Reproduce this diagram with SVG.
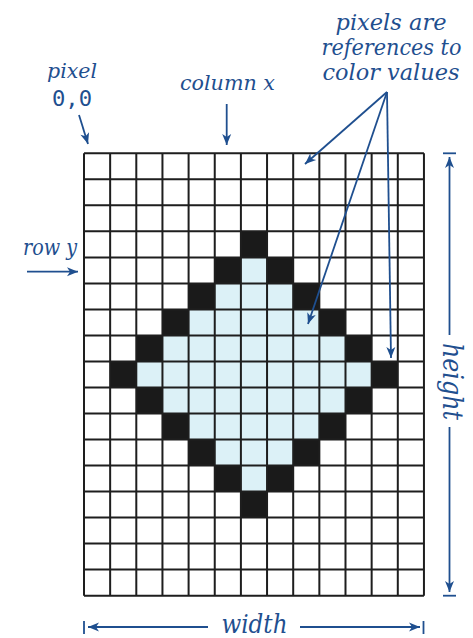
<svg xmlns="http://www.w3.org/2000/svg" width="473" height="638" viewBox="0 0 473 638">
<style>
.lbl{font-family:"DejaVu Serif","Liberation Serif",serif;font-style:italic;fill:#1f4f8f}
.mono{font-family:"DejaVu Sans Mono","Liberation Mono",monospace;fill:#1f4f8f}
.ln{stroke:#1f4f8f;stroke-width:1.8;fill:none}
.blk{fill:#1a1a1a}
.lt{fill:#dcf1f7}
</style>
<defs>
<marker id="ah" viewBox="-12 -6 13 12" refX="0" refY="0" markerWidth="13" markerHeight="12" markerUnits="userSpaceOnUse" orient="auto">
<path d="M0,0 L-11,-4.5 L-8,0 L-11,4.5 Z" fill="#1f4f8f"/>
</marker>
</defs>
<rect width="473" height="638" fill="#ffffff"/>
<g id="grid" transform="translate(84,153.3) scale(26.15,26.02)">
<g id="light">
<rect class="lt" x="6" y="4" width="1" height="1"/>
<rect class="lt" x="5" y="5" width="3" height="1"/>
<rect class="lt" x="4" y="6" width="5" height="1"/>
<rect class="lt" x="3" y="7" width="7" height="1"/>
<rect class="lt" x="2" y="8" width="9" height="1"/>
<rect class="lt" x="3" y="9" width="7" height="1"/>
<rect class="lt" x="4" y="10" width="5" height="1"/>
<rect class="lt" x="5" y="11" width="3" height="1"/>
<rect class="lt" x="6" y="12" width="1" height="1"/>
</g>
<g id="dark">
<rect class="blk" x="6" y="3" width="1" height="1"/>
<rect class="blk" x="5" y="4" width="1" height="1"/><rect class="blk" x="7" y="4" width="1" height="1"/>
<rect class="blk" x="4" y="5" width="1" height="1"/><rect class="blk" x="8" y="5" width="1" height="1"/>
<rect class="blk" x="3" y="6" width="1" height="1"/><rect class="blk" x="9" y="6" width="1" height="1"/>
<rect class="blk" x="2" y="7" width="1" height="1"/><rect class="blk" x="10" y="7" width="1" height="1"/>
<rect class="blk" x="1" y="8" width="1" height="1"/><rect class="blk" x="11" y="8" width="1" height="1"/>
<rect class="blk" x="2" y="9" width="1" height="1"/><rect class="blk" x="10" y="9" width="1" height="1"/>
<rect class="blk" x="3" y="10" width="1" height="1"/><rect class="blk" x="9" y="10" width="1" height="1"/>
<rect class="blk" x="4" y="11" width="1" height="1"/><rect class="blk" x="8" y="11" width="1" height="1"/>
<rect class="blk" x="5" y="12" width="1" height="1"/><rect class="blk" x="7" y="12" width="1" height="1"/>
<rect class="blk" x="6" y="13" width="1" height="1"/>
</g>
<path d="M0 0V17M1 0V17M2 0V17M3 0V17M4 0V17M5 0V17M6 0V17M7 0V17M8 0V17M9 0V17M10 0V17M11 0V17M12 0V17M13 0V17M0 0H13M0 1H13M0 2H13M0 3H13M0 4H13M0 5H13M0 6H13M0 7H13M0 8H13M0 9H13M0 10H13M0 11H13M0 12H13M0 13H13M0 14H13M0 15H13M0 16H13M0 17H13" fill="none" stroke="#1e1e1e" stroke-width="2" vector-effect="non-scaling-stroke"/>
</g>
<g id="labels">
<text id="pixel" class="lbl" x="72" y="78" font-size="21" text-anchor="middle" textLength="50" lengthAdjust="spacingAndGlyphs">pixel</text>
<text id="origin" class="mono" x="72" y="106" font-size="21" text-anchor="middle" textLength="40" lengthAdjust="spacingAndGlyphs">0,0</text>
<text id="column" class="lbl" x="227.5" y="90" font-size="20" text-anchor="middle" textLength="95" lengthAdjust="spacingAndGlyphs">column x</text>
<text id="row" class="lbl" x="50" y="255" font-size="22" text-anchor="middle" textLength="54" lengthAdjust="spacingAndGlyphs">row y</text>
<g id="note">
<text class="lbl" x="391" y="30" font-size="22" text-anchor="middle" textLength="111" lengthAdjust="spacingAndGlyphs">pixels are</text>
<text class="lbl" x="391.5" y="55" font-size="22" text-anchor="middle" textLength="140" lengthAdjust="spacingAndGlyphs">references to</text>
<text class="lbl" x="391" y="80" font-size="22" text-anchor="middle" textLength="137" lengthAdjust="spacingAndGlyphs">color values</text>
</g>
<text id="height" class="lbl" x="449" y="387.5" font-size="27" text-anchor="middle" textLength="77" lengthAdjust="spacingAndGlyphs" transform="rotate(90 449 381.5)">height</text>
<text id="width" class="lbl" x="254.5" y="633" font-size="26" text-anchor="middle" textLength="66" lengthAdjust="spacingAndGlyphs">width</text>
</g>
<g id="connectors" class="ln">
<line x1="79" y1="115" x2="88" y2="144" marker-end="url(#ah)"/>
<line x1="226.7" y1="104" x2="226.7" y2="145" marker-end="url(#ah)"/>
<line x1="27" y1="271.7" x2="78" y2="271.7" marker-end="url(#ah)"/>
<line x1="387" y1="92" x2="305" y2="164" marker-end="url(#ah)"/>
<line x1="387" y1="92" x2="308" y2="324" marker-end="url(#ah)"/>
<line x1="387" y1="92" x2="391" y2="358" marker-end="url(#ah)"/>
<line x1="449.5" y1="335" x2="449.5" y2="157" marker-end="url(#ah)"/>
<line x1="443" y1="153.3" x2="456" y2="153.3"/>
<line x1="449.5" y1="427" x2="449.5" y2="592" marker-end="url(#ah)"/>
<line x1="443" y1="595.7" x2="456" y2="595.7"/>
<line x1="208" y1="627" x2="88" y2="627" marker-end="url(#ah)"/>
<line x1="84" y1="621" x2="84" y2="634"/>
<line x1="300" y1="627" x2="420" y2="627" marker-end="url(#ah)"/>
<line x1="423.5" y1="621" x2="423.5" y2="634"/>
</g>
</svg>
